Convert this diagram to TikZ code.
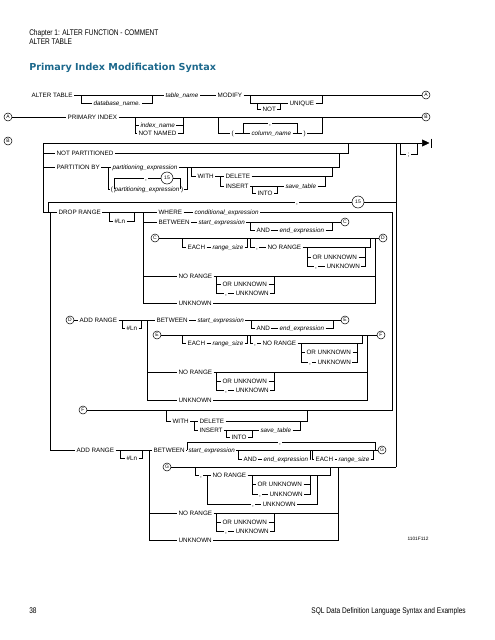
\documentclass[tikz,border=0pt]{standalone}
\usepackage{fontspec}
\setmainfont{Liberation Sans}
\newfontfamily\narrowsans[FakeStretch=0.8]{Liberation Sans}
\newfontfamily\titlesans{DejaVu Sans}
\usetikzlibrary{positioning,arrows.meta}
\definecolor{titleblue}{RGB}{28,104,140}
\newcommand{\railfont}{\fontsize{6.3}{7}\selectfont}
\newcommand{\tinyfont}{\fontsize{5}{5}\selectfont}
\tikzset{
  kw/.style={font=\railfont, inner sep=1.3pt, anchor=west, text height=4.5pt, text depth=0pt},
  var/.style={kw, font=\railfont\itshape},
  sep/.style={font=\railfont, inner sep=1.3pt, text height=4.5pt, text depth=0pt},
  conn/.style={circle, draw, inner sep=0pt, minimum size=8pt, font=\tinyfont},
  maxcirc/.style={circle, draw, inner sep=0pt, minimum size=12pt, font=\tinyfont},
  pagetext/.style={font=\narrowsans\fontsize{8.2}{9}\selectfont, inner sep=0pt, anchor=west}
}
\begin{document}
\begin{tikzpicture}[x=1pt, y=-1pt, line width=0.5pt]
\useasboundingbox (0,0) rectangle (495,640);
% page head
\node[pagetext] (chap) at (29,33) {Chapter 1: ALTER FUNCTION - COMMENT};
\node[pagetext] (sect) at (29,42) {ALTER TABLE};
\node[font=\titlesans\bfseries\fontsize{9.6}{11}\selectfont, text=titleblue, inner sep=0pt, anchor=west] (title) at (29,68) {Primary Index Modification Syntax};

% ALTER TABLE ... MODIFY
\node[kw] (alt) at (30,95) {ALTER TABLE};
\node[var] (dbname) at (92,103) {database\_name.};
\node[var] (tname) at (164,95) {table\_name};
\node[kw] (modify) at (216,95) {MODIFY};
\node[kw] (notu) at (261,109) {NOT};
\node[kw] (uniq) at (288,103) {UNIQUE};
\node[conn] (Aout) at (426,95) {A};
\coordinate (dbL) at (81,95); \coordinate (dbR) at (152,95);
\coordinate (uqL) at (250,95); \coordinate (uqR) at (322,95);
\coordinate (ntL) at (257,103); \coordinate (ntR) at (280,103);
\draw (alt) -- (tname) (tname) -- (modify) (modify) -- (Aout);
\draw (dbL) |- (dbname); \draw (dbname) -| (dbR);
\draw (uqL) |- (uniq); \draw (uniq) -| (uqR);
\draw (ntL) |- (notu); \draw (notu) -| (ntR);

% A: PRIMARY INDEX
\node[conn] (Ain) at (8,117) {A};
\node[kw] (pindex) at (66,117) {PRIMARY INDEX};
\node[var] (iname) at (139,125) {index\_name};
\node[kw] (nnamed) at (137,133) {NOT NAMED};
\node[kw] (lpar) at (230,133) {(};
\node[var] (cname) at (250,133) {column\_name};
\node[kw] (rpar) at (302,133) {)};
\node[sep] (ccomma) at (270,123) {,};
\node[conn] (Bout) at (426,117) {B};
\coordinate (inL) at (135,117); \coordinate (inR) at (183,117);
\coordinate (cnL) at (218,117); \coordinate (cnR) at (322,117);
\coordinate (clL) at (243,133); \coordinate (clR) at (297,133);
\draw (Ain) -- (pindex) (pindex) -- (Bout);
\draw (inL) |- (iname); \draw (inL) |- (nnamed);
\draw (iname) -| (inR); \draw (nnamed) -| (inR);
\draw (cnL) |- (lpar); \draw (lpar) -- (cname) (cname) -- (rpar); \draw (rpar) -| (cnR);
\draw (clR) |- (ccomma); \draw (ccomma) -| (clL);

% B: partitioning
\node[conn] (Bin) at (8,141) {B};
\coordinate (bTop) at (43,143); \coordinate (bCol) at (396,143);
\coordinate (semL) at (400,143); \coordinate (semR) at (417,143);
\coordinate (tipE) at (429.5,143);
\node[sep] (semi) at (408.5,154) {;};
\draw (bTop) -- (bCol);
\draw[-{Triangle[length=7.5pt,width=7pt]}] (bCol) -- (tipE);
\draw[line width=0.8pt] (431,138.5) -- (431,147.5);
\draw (semL) |- (semi); \draw (semi) -| (semR);

\node[kw] (notpart) at (55,153) {NOT PARTITIONED};
\node[kw] (partby) at (55,167) {PARTITION BY};
\node[var] (pexpr) at (111,167) {partitioning\_expression};
\node[kw, inner sep=0.6pt] (plp) at (110,189) {(};
\node[var, inner sep=0.6pt, right=0pt of plp] (pexpr2) {partitioning\_expression};
\node[kw, inner sep=0.6pt, right=0pt of pexpr2] (prp) {)};
\node[sep] (pcomma) at (146,178) {,};
\node[maxcirc] (pmax) at (167,178) {15};
\coordinate (pgL) at (108,167); \coordinate (pgR) at (187,167);
\coordinate (npR) at (348,143); \coordinate (pbR) at (339,153);
\draw (bTop) |- (notpart); \draw (notpart) -| (npR);
\draw (bTop) |- (partby); \draw (partby) -- (pexpr); \draw (pexpr) -| (pbR);
\draw (pgL) |- (plp); \draw (prp) -| (pgR);
\draw (plp.east) |- (pcomma); \draw (pcomma) -- (pmax); \draw (pmax) -| (prp.west);

\node[kw] (with1) at (196,176) {WITH};
\node[kw] (del1) at (224,176) {DELETE};
\node[kw] (ins1) at (224,186) {INSERT};
\node[kw] (into1) at (256,193) {INTO};
\node[var] (save1) at (284,186) {save\_table};
\coordinate (wiL) at (191,167); \coordinate (wiR) at (332,167);
\coordinate (diL) at (220,176); \coordinate (diR) at (325,176);
\coordinate (itL) at (252,186); \coordinate (itR) at (277,186);
\draw (wiL) |- (with1); \draw (with1) -- (del1); \draw (del1) -| (wiR);
\draw (diL) |- (ins1); \draw (ins1) -- (save1); \draw (save1) -| (diR);
\draw (itL) |- (into1); \draw (into1) -| (itR);

% repeat loop
\coordinate (lpTop) at (396,202); \coordinate (lpDown) at (48,212);
\node[sep] (lcomma) at (297,202) {,};
\node[maxcirc] (lmax) at (358,202) {15};
\draw (lpTop) -- (lmax); \draw (lmax) -- (lcomma); \draw (lcomma) -| (lpDown);

% DROP RANGE
\node[kw] (drop) at (57,212) {DROP RANGE};
\node[kw] (dln) at (113,221) {\#Ln};
\node[kw] (where) at (157,212) {WHERE};
\node[var] (cexpr) at (193,212) {conditional\_expression};
\coordinate (bLow) at (43,212); \coordinate (aLeft) at (50,212);
\coordinate (dlnL) at (109,212); \coordinate (dlnR) at (134,212);
\coordinate (dV) at (143,212); \coordinate (dCol) at (392,212);
\draw (bTop) -- (bLow); \draw (bLow) -- (drop);
\draw (drop) -- (where) (where) -- (cexpr) (cexpr) -- (dCol);
\draw (dlnL) |- (dln); \draw (dln) -| (dlnR);

\node[kw] (btw1) at (157,222) {BETWEEN};
\node[var] (sexp1) at (197,222) {start\_expression};
\node[kw] (and1) at (255,230) {AND};
\node[var] (eexp1) at (278,230) {end\_expression};
\node[conn] (Cout) at (345,222) {C};
\coordinate (anL1) at (250,222); \coordinate (anR1) at (332,222);
\draw (dV) |- (btw1); \draw (btw1) -- (sexp1) (sexp1) -- (Cout);
\draw (anL1) |- (and1); \draw (and1) -- (eexp1); \draw (eexp1) -| (anR1);

\node[conn] (Cin) at (155,238) {C};
\node[kw] (each1) at (186,247) {EACH};
\node[var] (rsize1) at (211,247) {range\_size};
\node[sep] (ncomma1) at (257,247) {,};
\node[kw] (nor1) at (266,247) {NO RANGE};
\node[kw] (oru1) at (311,257) {OR UNKNOWN};
\node[sep] (ucomma1) at (316,266) {,};
\node[kw] (unk1) at (325,266) {UNKNOWN};
\node[conn] (Dout) at (383,238) {D};
\coordinate (eaL1) at (182,238); \coordinate (eaR1) at (247,238);
\coordinate (nrL1) at (250,238); \coordinate (nrR1) at (370,238);
\coordinate (ouL1) at (307,247); \coordinate (ouR1) at (365,247);
\coordinate (dRest) at (375,238);
\draw (Cin) -- (Dout);
\draw (eaL1) |- (each1); \draw (each1) -- (rsize1); \draw (rsize1) -| (eaR1);
\draw (nrL1) |- (ncomma1); \draw (ncomma1) -- (nor1); \draw (nor1) -| (nrR1);
\draw (ouL1) |- (oru1); \draw (ouL1) |- (ucomma1); \draw (ucomma1) -- (unk1);
\draw (oru1) -| (ouR1); \draw (unk1) -| (ouR1);

\node[kw] (nor2) at (177,276) {NO RANGE};
\node[kw] (oru2) at (221,284) {OR UNKNOWN};
\node[sep] (ucomma2) at (226,293) {,};
\node[kw] (unk2) at (234,293) {UNKNOWN};
\node[kw] (unk3) at (177,303) {UNKNOWN};
\coordinate (ouL2) at (216,276); \coordinate (ouR2) at (274,276);
\draw (dV) |- (nor2); \draw (nor2) -| (dRest);
\draw (ouL2) |- (oru2); \draw (ouL2) |- (ucomma2); \draw (ucomma2) -- (unk2);
\draw (oru2) -| (ouR2); \draw (unk2) -| (ouR2);
\draw (dV) |- (unk3); \draw (unk3) -| (dRest);

% D: ADD RANGE
\node[conn] (Din) at (70,320) {D};
\node[kw] (add1) at (78,320) {ADD RANGE};
\node[kw] (aln1) at (125,328) {\#Ln};
\node[kw] (btw2) at (155,320) {BETWEEN};
\node[var] (sexp2) at (196,320) {start\_expression};
\node[kw] (and2) at (255,328) {AND};
\node[var] (eexp2) at (278,328) {end\_expression};
\node[conn] (Eout) at (345,320) {E};
\coordinate (alnL1) at (122,320); \coordinate (alnR1) at (141,320);
\coordinate (aV1) at (147,320);
\coordinate (anL2) at (251,320); \coordinate (anR2) at (333,320);
\draw (Din) -- (add1); \draw (add1) -- (btw2); \draw (btw2) -- (sexp2) (sexp2) -- (Eout);
\draw (alnL1) |- (aln1); \draw (aln1) -| (alnR1);
\draw (anL2) |- (and2); \draw (and2) -- (eexp2); \draw (eexp2) -| (anR2);

\node[conn] (Ein) at (157,335) {E};
\node[kw] (each2) at (186,343) {EACH};
\node[var] (rsize2) at (211,343) {range\_size};
\node[sep] (ncomma2) at (255,343) {,};
\node[kw] (nor3) at (261,343) {NO RANGE};
\node[kw] (oru3) at (305,352) {OR UNKNOWN};
\node[sep] (ucomma3) at (310,362) {,};
\node[kw] (unk4) at (316,362) {UNKNOWN};
\node[conn] (Fout) at (381,335) {F};
\coordinate (eaL2) at (182,335); \coordinate (eaR2) at (247,335);
\coordinate (nrL2) at (250,335); \coordinate (nrR2) at (362,335);
\coordinate (ouL3) at (301,343); \coordinate (ouR3) at (357,343);
\coordinate (aRest) at (367,335);
\draw (Ein) -- (Fout);
\draw (eaL2) |- (each2); \draw (each2) -- (rsize2); \draw (rsize2) -| (eaR2);
\draw (nrL2) |- (ncomma2); \draw (ncomma2) -- (nor3); \draw (nor3) -| (nrR2);
\draw (ouL3) |- (oru3); \draw (ouL3) |- (ucomma3); \draw (ucomma3) -- (unk4);
\draw (oru3) -| (ouR3); \draw (unk4) -| (ouR3);

\node[kw] (nor4) at (177,372) {NO RANGE};
\node[kw] (oru4) at (221,381) {OR UNKNOWN};
\node[sep] (ucomma4) at (226,390) {,};
\node[kw] (unk5) at (234,390) {UNKNOWN};
\node[kw] (unk6) at (177,400) {UNKNOWN};
\coordinate (ouL4) at (216,372); \coordinate (ouR4) at (274,372);
\draw (aV1) |- (nor4); \draw (nor4) -| (aRest);
\draw (ouL4) |- (oru4); \draw (ouL4) |- (ucomma4); \draw (ucomma4) -- (unk5);
\draw (oru4) -| (ouR4); \draw (unk5) -| (ouR4);
\draw (aV1) |- (unk6); \draw (unk6) -| (aRest);

% F: WITH
\node[conn] (Fin) at (83,410) {F};
\node[kw] (with2) at (171,421) {WITH};
\node[kw] (del2) at (198,421) {DELETE};
\node[kw] (ins2) at (198,430) {INSERT};
\node[kw] (into2) at (230,437) {INTO};
\node[var] (save2) at (259,430) {save\_table};
\coordinate (fCol) at (392,410);
\coordinate (wiL2) at (166,410); \coordinate (wiR2) at (307,410);
\coordinate (diL2) at (194,421); \coordinate (diR2) at (300,421);
\coordinate (itL2) at (226,430); \coordinate (itR2) at (252,430);
\draw (Fin) -- (fCol) -- (dCol);
\draw (wiL2) |- (with2); \draw (with2) -- (del2); \draw (del2) -| (wiR2);
\draw (diL2) |- (ins2); \draw (ins2) -- (save2); \draw (save2) -| (diR2);
\draw (itL2) |- (into2); \draw (into2) -| (itR2);

% last ADD RANGE
\node[kw] (add2) at (75,450) {ADD RANGE};
\node[kw] (aln2) at (125,458) {\#Ln};
\node[kw] (btw3) at (152,450) {BETWEEN};
\node[var] (sexp3) at (187,450) {start\_expression};
\node[kw] (and3) at (242,459) {AND};
\node[var] (eexp3) at (262,459) {end\_expression};
\node[kw] (each3) at (314,459) {EACH};
\node[var] (rsize3) at (337,459) {range\_size};
\node[sep] (gcomma) at (280,442) {,};
\node[conn] (Gout) at (382,450) {G};
\coordinate (alnL2) at (120,450); \coordinate (alnR2) at (142,450);
\coordinate (gV) at (149,450);
\coordinate (glL) at (187,450); \coordinate (glR) at (375,450);
\coordinate (anL3) at (238,450); \coordinate (anR3) at (310,450);
\coordinate (eaL3) at (312,450); \coordinate (eaR3) at (373,450);
\draw (aLeft) |- (add2); \draw (add2) -- (btw3); \draw (btw3) -- (sexp3); \draw (sexp3) -- (Gout);
\draw (alnL2) |- (aln2); \draw (aln2) -| (alnR2);
\draw (glL) |- (gcomma); \draw (gcomma) -| (glR);
\draw (anL3) |- (and3); \draw (and3) -- (eexp3); \draw (eexp3) -| (anR3);
\draw (eaL3) |- (each3); \draw (each3) -- (rsize3); \draw (rsize3) -| (eaR3);

\node[conn] (Gin) at (167,467) {G};
\node[sep] (gcomma2) at (201,475) {,};
\node[kw] (nor5) at (211,475) {NO RANGE};
\node[kw] (oru5) at (256,484) {OR UNKNOWN};
\node[sep] (ucomma5) at (260,494) {,};
\node[kw] (unk7) at (268,494) {UNKNOWN};
\node[sep] (ucomma6) at (253,504) {,};
\node[kw] (unk8) at (261,504) {UNKNOWN};
\coordinate (bCol2) at (396,467);
\coordinate (gcL) at (195,467); \coordinate (gcR) at (330,467);
\coordinate (gsL) at (207,475); \coordinate (gsR) at (317,475);
\coordinate (ouL5) at (252,475); \coordinate (ouR5) at (310,475);
\coordinate (gRest) at (338,467);
\draw (bCol) -- (bCol2); \draw (Gin) -- (bCol2);
\draw (gcL) |- (gcomma2); \draw (gcomma2) -- (nor5); \draw (nor5) -| (gcR);
\draw (ouL5) |- (oru5); \draw (ouL5) |- (ucomma5); \draw (ucomma5) -- (unk7);
\draw (oru5) -| (ouR5); \draw (unk7) -| (ouR5);
\draw (gsL) |- (ucomma6); \draw (ucomma6) -- (unk8); \draw (unk8) -| (gsR);

\node[kw] (nor6) at (177,513) {NO RANGE};
\node[kw] (oru6) at (221,522) {OR UNKNOWN};
\node[sep] (ucomma7) at (226,531) {,};
\node[kw] (unk9) at (234,531) {UNKNOWN};
\node[kw] (unk10) at (177,540) {UNKNOWN};
\coordinate (ouL6) at (216,513); \coordinate (ouR6) at (274,513);
\draw (gV) |- (nor6); \draw (nor6) -| (gRest);
\draw (ouL6) |- (oru6); \draw (ouL6) |- (ucomma7); \draw (ucomma7) -- (unk9);
\draw (oru6) -| (ouR6); \draw (unk9) -| (ouR6);
\draw (gV) |- (unk10); \draw (unk10) -| (gRest);

\node[font=\fontsize{4.8}{5}\selectfont, inner sep=0pt] (figid) at (418,539) {1101F112};

% page foot
\node[pagetext] (pageno) at (29,611) {38};
\node[pagetext, anchor=east] (foot) at (466,611) {SQL Data Definition Language Syntax and Examples};
\end{tikzpicture}
\end{document}
